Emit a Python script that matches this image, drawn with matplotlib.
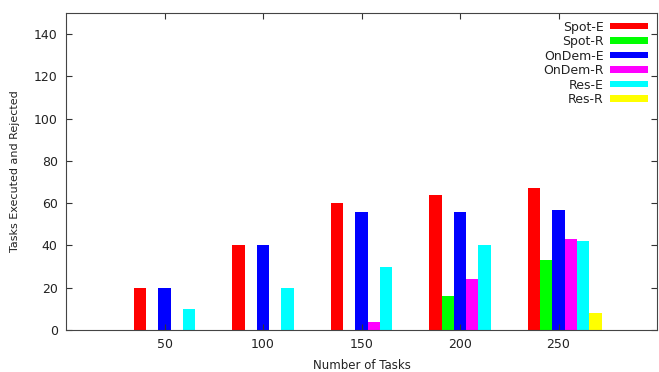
import matplotlib
matplotlib.use("Agg")
import matplotlib.pyplot as plt
import numpy as np

tasks = ["50", "100", "150", "200", "250"]
spot_e = [20, 40, 60, 64, 67]
spot_r = [0, 0, 0, 16, 33]
ondem_e = [20, 40, 56, 56, 57]
ondem_r = [0, 0, 4, 24, 43]
res_e = [10, 20, 30, 40, 42]
res_r = [0, 0, 0, 0, 8]

series = [
    ("Spot-E", spot_e, "#ff0000"),
    ("Spot-R", spot_r, "#00ff00"),
    ("OnDem-E", ondem_e, "#0000ff"),
    ("OnDem-R", ondem_r, "#ff00ff"),
    ("Res-E", res_e, "#00ffff"),
    ("Res-R", res_r, "#ffff00"),
]

plt.rcParams["font.family"] = "DejaVu Sans"
fig = plt.figure(figsize=(6.59, 3.72), dpi=100)
ax = fig.add_axes([0.1002, 0.1129, 0.8968, 0.8521])

x = np.arange(len(tasks))
w = 0.125
handles = []
for j, (name, vals, col) in enumerate(series):
    b = ax.bar(x - 0.25 + j * w, vals, width=w, color=col, linewidth=0, label=name)
    handles.append(b)

ax.set_xlim(-1, 5)
ax.set_ylim(0, 150)
ax.set_xticks(x)
ax.set_xticklabels(tasks)
ax.set_yticks(range(0, 141, 20))
ax.tick_params(axis="both", direction="in", labelsize=9, length=4, color="#333333",
               labelcolor="#222222", top=True, right=True, pad=6)
for s in ax.spines.values():
    s.set_color("#444444")
    s.set_linewidth(0.8)
ax.set_xlabel("Number of Tasks", fontsize=8.5, color="#222222", va="center")
ax.set_ylabel("Tasks Executed and Rejected", fontsize=8, color="#222222", va="center")
ax.xaxis.set_label_coords(0.5, -0.113)
ax.yaxis.set_label_coords(-0.086, 0.5)

leg = ax.legend(handles=handles, loc="upper right", frameon=False, fontsize=9,
                markerfirst=False, handlelength=3.0, handleheight=0.45,
                labelspacing=0.12, handletextpad=0.55, borderaxespad=0.2,
                bbox_to_anchor=(0.997, 1.0))
for t in leg.get_texts():
    t.set_ha("right")
    t.set_color("#222222")

fig.savefig("out.png", dpi=100)
